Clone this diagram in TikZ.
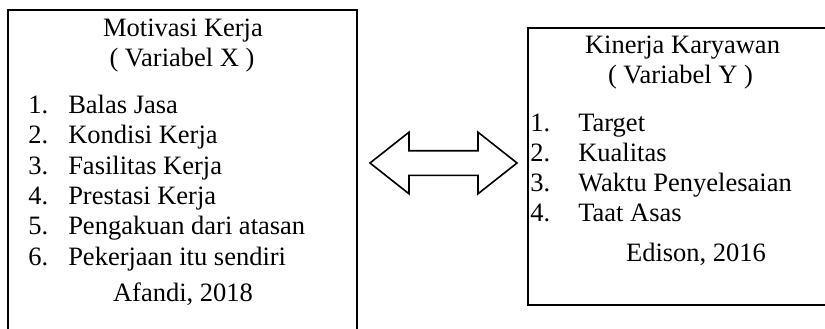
\documentclass[tikz,border=0pt]{standalone}
\usepackage{fontspec}
\setmainfont{Liberation Serif}
\usetikzlibrary{shapes.arrows, positioning}

\begin{document}
\begin{tikzpicture}[x=0.5pt, y=-0.5pt, font=\fontsize{13.25}{15}\selectfont,
    box/.style={draw, line width=1pt, inner sep=0pt},
    txt/.style={inner sep=0pt, anchor=base},
    item/.style={inner sep=0pt, anchor=base west}]
    \useasboundingbox (0,0) rectangle (825,328);
    \clip (0,0) rectangle (825,328);

    % Kotak variabel X
    \node[box, minimum width=174.5pt, minimum height=165pt] (motiv) at (182.5,175) {};
    \node[txt] (motivT) at (183,36) {Motivasi Kerja};
    \node[txt] (motivV) at (182,66) {( Variabel X )};
    \node[item] (x1) at (28,113.5) {1.\hspace{10pt}Balas Jasa};
    \node[item] (x2) at (28,143.5) {2.\hspace{10pt}Kondisi Kerja};
    \node[item] (x3) at (28,174) {3.\hspace{10pt}Fasilitas Kerja};
    \node[item] (x4) at (28,204.5) {4.\hspace{10pt}Prestasi Kerja};
    \node[item] (x5) at (28,234.5) {5.\hspace{10pt}Pengakuan dari atasan};
    \node[item] (x6) at (28,265) {6.\hspace{10pt}Pekerjaan itu sendiri};
    \node[txt] (motivS) at (183,301.5) {Afandi, 2018};

    % Kotak variabel Y
    \node[box, minimum width=151pt, minimum height=138.5pt] (kiner) at (679,166.5) {};
    \node[txt] (kinerT) at (682.5,53) {Kinerja Karyawan};
    \node[txt] (kinerV) at (680.5,83) {( Variabel Y )};
    \node[item] (y1) at (530,131) {1.\hspace{14pt}Target};
    \node[item] (y2) at (530,161) {2.\hspace{14pt}Kualitas};
    \node[item] (y3) at (530,191) {3.\hspace{14pt}Waktu Penyelesaian};
    \node[item] (y4) at (530,221) {4.\hspace{14pt}Taat Asas};
    \node[txt] (kinerS) at (696,261) {Edison, 2016};

    % Panah dua arah
    \node[double arrow, draw, line width=0.8pt, inner xsep=0pt, inner ysep=5.75pt,
        minimum height=73.5pt, minimum width=30pt,
        double arrow head extend=9.25pt, double arrow tip angle=76.6] (link) at (443.5,163) {};

\end{tikzpicture}
\end{document}
